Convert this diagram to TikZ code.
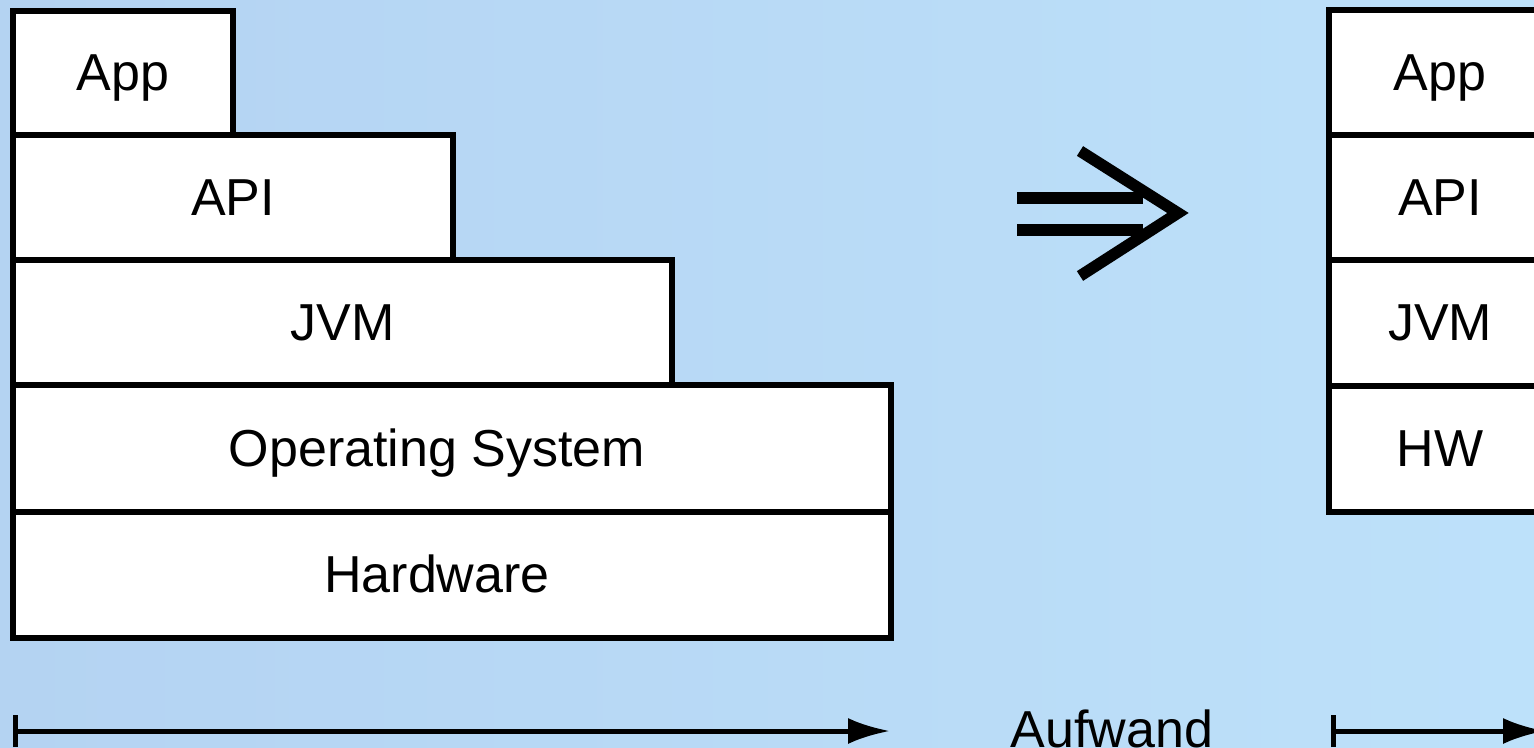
\documentclass[tikz,border=0pt]{standalone}
\usepackage{fontspec}
\setmainfont{Liberation Sans}
\usetikzlibrary{arrows.meta,positioning}
\definecolor{bgleft}{RGB}{180,211,242}
\definecolor{bgright}{RGB}{189,225,250}

\begin{document}
\begin{tikzpicture}[x=1pt,y=-1pt,
                    boxtext/.style={font=\fontsize{52}{60}\selectfont,text height=37pt,text depth=2pt},
                    layer/.style={draw,fill=white,line width=5.5pt,anchor=north west,
                                  outer sep=0pt,inner sep=0pt,boxtext},
                    wide/.style={label={[boxtext,inner sep=0pt,xshift=-15pt]center:#1}},
                    effort/.style={line width=5pt,
                                   {Bar[width=32pt]}-{Latex[length=42pt,width=26pt]}},
                    implies/.style={line width=11.5pt}]
                    \useasboundingbox (0,0) rectangle (1534,747);
                    \clip (0,0) rectangle (1534,747);
                    \fill[left color=bgleft,right color=bgright] (0,0) rectangle (1534,747);
                    % full stack
                    \node[layer,minimum width=220pt,minimum height=124pt] (app) at (13,11) {App};
                    \node[layer,minimum width=440pt,minimum height=125pt] (api) at (13,135) {API};
                    \node[layer,minimum width=659pt,minimum height=125pt] (jvm) at (13,260) {JVM};
                    \node[layer,minimum width=878pt,minimum height=127pt,wide=Operating System] (os) at (13,385) {};
                    \node[layer,minimum width=878pt,minimum height=126pt,wide=Hardware] (hw) at (13,512) {};
                    % reduced stack
                    \node[layer,minimum width=222pt,minimum height=125pt] (rapp) at (1329,10) {App};
                    \node[layer,minimum width=222pt,minimum height=125pt] (rapi) at (1329,135) {API};
                    \node[layer,minimum width=222pt,minimum height=126pt] (rjvm) at (1329,260) {JVM};
                    \node[layer,minimum width=222pt,minimum height=126pt] (rhw) at (1329,386) {HW};
                    % implies
                    \coordinate (i1) at (1017,198);
                    \coordinate (i2) at (1017,230);
                    \coordinate (itip) at (1178,213);
                    \draw[implies] (i1) -- (1143,198);
                    \draw[implies] (i2) -- (1143,230);
                    \draw[implies,miter limit=4] (1080,151) -- (itip) -- (1080,276);
                    % effort
                    \coordinate (e1) at (13,731);
                    \coordinate (e2) at (890,731);
                    \coordinate (f1) at (1331,731);
                    \coordinate (f2) at (1545,731);
                    \draw[effort] (e1) -- (e2);
                    \draw[effort] (f1) -- (f2);
                    \node[anchor=base,inner sep=0pt,font=\fontsize{52}{60}\selectfont] (aufwand) at (1112,747) {Aufwand};
                \end{tikzpicture}
\end{document}
